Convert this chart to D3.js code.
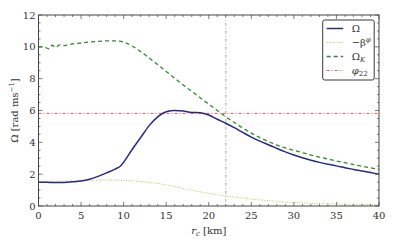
<!DOCTYPE html>
<html>
<head>
<meta charset="utf-8">
<script src="https://cdn.jsdelivr.net/npm/d3@7"></script>
<style>
  body { margin: 0; background: #fff; }
</style>
</head>
<body>
<svg width="395" height="244"></svg>
<script>
var omegaR = [0, 1, 2, 3, 4, 5, 6, 7, 8, 9, 9.7, 10, 11, 12, 13, 14, 15, 16, 17, 18, 19, 20, 21, 22, 23, 24, 25, 26, 27, 28, 29, 30, 31, 32, 33, 34, 35, 36, 37, 38, 39, 40];
var omegaV = [1.50, 1.49, 1.47, 1.48, 1.52, 1.57, 1.68, 1.86, 2.08, 2.32, 2.55, 2.75, 3.55, 4.3, 5.05, 5.6, 5.92, 6.0, 5.97, 5.88, 5.86, 5.72, 5.45, 5.2, 4.92, 4.62, 4.33, 4.08, 3.85, 3.62, 3.4, 3.2, 3.03, 2.88, 2.74, 2.62, 2.52, 2.4, 2.3, 2.2, 2.1, 2.0];

var betaR = [0, 2, 4, 6, 8, 10, 12, 14, 16, 18, 20, 22, 24, 26, 28, 30, 32, 34, 36, 38, 40];
var betaV = [1.55, 1.56, 1.59, 1.61, 1.63, 1.61, 1.54, 1.42, 1.22, 0.98, 0.8, 0.63, 0.5, 0.38, 0.3, 0.22, 0.17, 0.14, 0.12, 0.1, 0.09];

var kepR = [0, 0.6, 1.2, 1.6, 2.0, 2.5, 3, 4, 5, 6, 7, 8, 9, 10, 11, 12, 13, 14, 15, 16, 17, 18, 19, 20, 21, 22, 23, 24, 25, 26, 27, 28, 29, 30, 31, 32, 33, 34, 35, 36, 37, 38, 39, 40];
var kepV = [10.0, 10.0, 9.88, 10.1, 9.97, 10.12, 10.08, 10.18, 10.24, 10.3, 10.34, 10.38, 10.38, 10.3, 10.05, 9.7, 9.3, 8.88, 8.45, 8.03, 7.6, 7.2, 6.8, 6.4, 6.0, 5.6, 5.25, 4.9, 4.58, 4.3, 4.05, 3.83, 3.65, 3.5, 3.35, 3.2, 3.07, 2.95, 2.83, 2.72, 2.6, 2.5, 2.4, 2.3];

var phi22 = 5.82;
var rLine = 22;

var xTicks = [0, 5, 10, 15, 20, 25, 30, 35, 40];
var yTicks = [0, 2, 4, 6, 8, 10, 12];

var legendNames = ["Ω", "−β", "Ω", "φ"];

var svg = d3.select("svg")
    .style("font-family", "'DejaVu Serif', 'Liberation Serif', serif"),
  margin = { top: 15, right: 16, bottom: 38, left: 38.5 },
  width = 395 - margin.left - margin.right,
  height = 244 - margin.top - margin.bottom,
  g = svg.append("g").attr("transform", "translate(" + margin.left + "," + margin.top + ")");

var x = d3.scaleLinear().domain([0, 40]).range([0, width]);
var y = d3.scaleLinear().domain([0, 12]).range([height, 0]);

var axisColor = "#444";
var textColor = "#333";

svg.append("clipPath").attr("id", "clip")
  .append("rect").attr("width", width).attr("height", height);

var plot = g.append("g").attr("clip-path", "url(#clip)");

// reference lines
plot.append("line")
  .attr("x1", 0).attr("x2", width)
  .attr("y1", y(phi22)).attr("y2", y(phi22))
  .attr("stroke", "#f0555c")
  .attr("stroke-width", 1)
  .attr("stroke-dasharray", "3,2,1,2");

plot.append("line")
  .attr("x1", x(rLine)).attr("x2", x(rLine))
  .attr("y1", 0).attr("y2", height)
  .attr("stroke", "#999")
  .attr("stroke-width", 0.8)
  .attr("stroke-dasharray", "3,2,1,2");

function curve(rs, vs) {
  return d3.line()
    .x(function(d, i) { return x(rs[i]); })
    .y(function(d) { return y(d); })
    .curve(d3.curveMonotoneX)(vs);
}

plot.append("path")
  .attr("d", curve(betaR, betaV))
  .attr("fill", "none")
  .attr("stroke", "#c2c25a")
  .attr("stroke-width", 1)
  .attr("stroke-dasharray", "1,1.5");

plot.append("path")
  .attr("d", curve(kepR, kepV))
  .attr("fill", "none")
  .attr("stroke", "#2f8a2f")
  .attr("stroke-width", 1.3)
  .attr("stroke-dasharray", "4,3");

plot.append("path")
  .attr("d", curve(omegaR, omegaV))
  .attr("fill", "none")
  .attr("stroke", "#262a80")
  .attr("stroke-width", 1.5);

// frame
g.append("rect")
  .attr("width", width).attr("height", height)
  .attr("fill", "none")
  .attr("stroke", axisColor)
  .attr("stroke-width", 1);

// ticks
var xMinor = d3.range(0, 41, 1);
var yMinor = d3.range(0, 12.01, 0.5);

xMinor.forEach(function(v) {
  var len = v % 5 === 0 ? 4 : 2;
  g.append("line").attr("x1", x(v)).attr("x2", x(v)).attr("y1", height).attr("y2", height - len).attr("stroke", axisColor).attr("stroke-width", 0.7);
  g.append("line").attr("x1", x(v)).attr("x2", x(v)).attr("y1", 0).attr("y2", len).attr("stroke", axisColor).attr("stroke-width", 0.7);
});
yMinor.forEach(function(v) {
  var len = v % 2 === 0 ? 4 : 2;
  g.append("line").attr("y1", y(v)).attr("y2", y(v)).attr("x1", 0).attr("x2", len).attr("stroke", axisColor).attr("stroke-width", 0.7);
  g.append("line").attr("y1", y(v)).attr("y2", y(v)).attr("x1", width).attr("x2", width - len).attr("stroke", axisColor).attr("stroke-width", 0.7);
});

g.selectAll(".xt").data(xTicks).enter().append("text")
  .attr("x", function(d) { return x(d); })
  .attr("y", height + 13)
  .attr("text-anchor", "middle")
  .attr("font-size", "10px")
  .attr("fill", textColor)
  .text(function(d) { return d; });

g.selectAll(".yt").data(yTicks).enter().append("text")
  .attr("x", -3)
  .attr("y", function(d) { return y(d); })
  .attr("dy", "0.35em")
  .attr("text-anchor", "end")
  .attr("font-size", "10px")
  .attr("fill", textColor)
  .text(function(d) { return d; });

// axis labels
var xl = g.append("text")
  .attr("x", width / 2)
  .attr("y", height + 28)
  .attr("text-anchor", "middle")
  .attr("fill", textColor)
  .attr("font-size", "10px");
xl.append("tspan").attr("font-style", "italic").text("r");
xl.append("tspan").attr("font-style", "italic").attr("font-size", "7px").attr("dy", "2").text("c");
xl.append("tspan").attr("dy", "-2").text(" [km]");

var yl = svg.append("text")
  .attr("transform", "translate(18," + (margin.top + height / 2) + ") rotate(-90)")
  .attr("text-anchor", "middle")
  .attr("fill", textColor)
  .attr("font-size", "10px");
yl.append("tspan").text("Ω [rad ms");
yl.append("tspan").attr("font-size", "7px").attr("dy", "-4").text("−1");
yl.append("tspan").attr("dy", "4").text("]");

// legend
var lx = 322.7 - margin.left, ly = 20 - margin.top;
g.append("rect")
  .attr("x", lx).attr("y", ly)
  .attr("width", 51.5).attr("height", 60)
  .attr("rx", 2)
  .attr("fill", "#fff")
  .attr("stroke", "#222")
  .attr("stroke-width", 0.9);

var legStyles = [
  { c: "#262a80", w: 1.5, d: null },
  { c: "#c2c25a", w: 1, d: "1,1.5" },
  { c: "#2f8a2f", w: 1.3, d: "4,3" },
  { c: "#f0555c", w: 1, d: "3,2,1,2" }
];
var subs = [null, "φ", "K", "22"];

legendNames.forEach(function(name, i) {
  var yy = ly + 8.5 + i * 14;
  g.append("line")
    .attr("x1", lx + 4).attr("x2", lx + 20.5)
    .attr("y1", yy).attr("y2", yy)
    .attr("stroke", legStyles[i].c)
    .attr("stroke-width", legStyles[i].w)
    .attr("stroke-dasharray", legStyles[i].d);
  var t = g.append("text")
    .attr("x", lx + 29).attr("y", yy)
    .attr("dy", "0.35em")
    .attr("fill", textColor)
    .attr("font-size", "10px");
  t.append("tspan").attr("font-style", i === 3 ? "italic" : null).text(name);
  if (i === 1) t.append("tspan").attr("font-size", "7px").attr("dy", "-4").attr("font-style", "italic").text(subs[i]);
  if (i === 2) t.append("tspan").attr("font-size", "7px").attr("dy", "2").attr("font-style", "italic").text(subs[i]);
  if (i === 3) t.append("tspan").attr("font-size", "7px").attr("dy", "2").text(subs[i]);
});
</script>
</body>
</html>
